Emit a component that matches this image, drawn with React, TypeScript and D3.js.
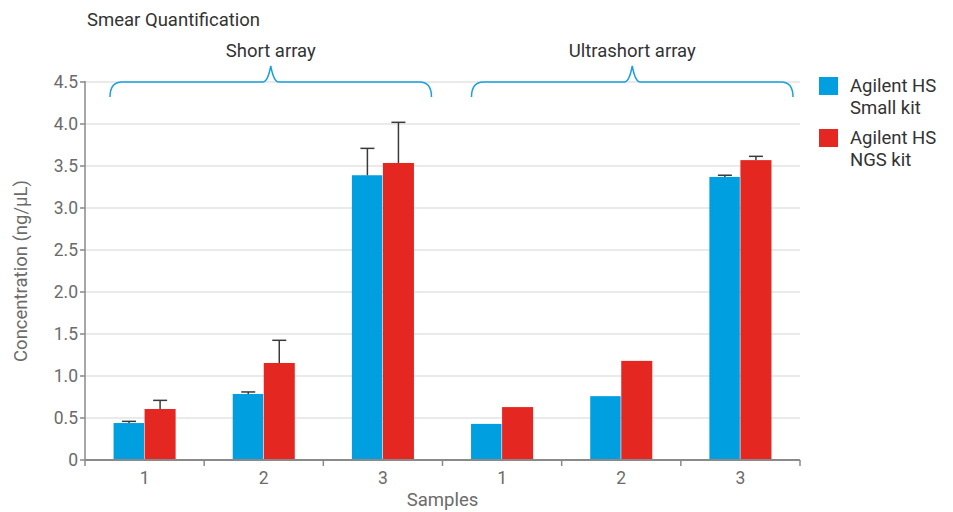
import React from "react";
import * as d3 from "d3";

const arrays = ["Short array", "Ultrashort array"];
const samples = ["1", "2", "3"];
const seriesNames = ["Agilent HS Small kit", "Agilent HS NGS kit"];
const legendLines = [["Agilent HS", "Small kit"], ["Agilent HS", "NGS kit"]];
const colors = ["#009fe0", "#e52722"];

// values per array, per sample: [small kit, ngs kit]
const shortSmall = [0.44, 0.786, 3.39];
const shortNgs = [0.607, 1.155, 3.536];
const ultraSmall = [0.43, 0.76, 3.37];
const ultraNgs = [0.63, 1.18, 3.57];
// upper error bar ends (null = no bar)
const shortSmallErr = [0.46, 0.81, 3.71];
const shortNgsErr = [0.71, 1.425, 4.02];
const ultraSmallErr = [null, null, 3.39];
const ultraNgsErr = [null, null, 3.615];

const yTicks = [0, 0.5, 1, 1.5, 2, 2.5, 3, 3.5, 4, 4.5];

const W = 953;
const H = 512;
const margin = { top: 82, right: 153, bottom: 52, left: 85 };
const font = "Roboto, 'Noto Sans', sans-serif";

type Bar = { key: string; series: number; value: number; err: number | null };

export default function App() {
  const keys = arrays.flatMap((a) => samples.map((s) => `${a}-${s}`));
  const x0 = d3.scaleBand().domain(keys).range([margin.left, W - margin.right]);
  const x1 = d3
    .scaleBand()
    .domain(seriesNames)
    .range([0, x0.bandwidth()])
    .paddingOuter(0.92);
  const y = d3.scaleLinear().domain([0, 4.5]).range([H - margin.bottom, margin.top]);

  const vals = [
    [shortSmall, shortNgs, shortSmallErr, shortNgsErr],
    [ultraSmall, ultraNgs, ultraSmallErr, ultraNgsErr],
  ];
  const bars: Bar[] = [];
  arrays.forEach((a, ai) => {
    samples.forEach((s, si) => {
      bars.push({ key: `${a}-${s}`, series: 0, value: vals[ai][0][si] as number, err: vals[ai][2][si] });
      bars.push({ key: `${a}-${s}`, series: 1, value: vals[ai][1][si] as number, err: vals[ai][3][si] });
    });
  });

  const x0Left = margin.left;
  const x0Right = W - margin.right;

  // braces spanning each array group
  const braces = arrays.map((a, ai) => {
    const first = x0(`${a}-${samples[0]}`)!;
    const last = x0(`${a}-${samples[samples.length - 1]}`)! + x0.bandwidth();
    const l = first + (ai === 0 ? 25 : 29);
    const r = last - (ai === 0 ? 11 : 7);
    const mid = (l + r) / 2;
    const yl = y(4.5);
    const ye = yl + 15;
    const yp = yl - 16;
    const rr = 12;
    const path = `M${l},${ye} Q${l},${yl} ${l + rr},${yl} L${mid - 8},${yl} Q${mid - 3},${yl} ${mid},${yp} Q${mid + 3},${yl} ${mid + 8},${yl} L${r - rr},${yl} Q${r},${yl} ${r},${ye}`;
    return { a, path, mid, yp };
  });

  return (
    <svg
      width={W}
      height={H}
      style={{ position: "absolute", left: 0, top: 0, background: "#fff" }}
      fontFamily={font}
    >
      {/* gridlines */}
      {yTicks.map((t) =>
        t === 0 ? null : (
          <line key={t} x1={x0Left} x2={x0Right} y1={y(t)} y2={y(t)} stroke="#e3e3e3" strokeWidth={1.5} />
        )
      )}
      {/* bars */}
      {bars.map((b, i) => (
        <rect
          key={i}
          x={x0(b.key)! + x1(seriesNames[b.series])!}
          y={y(b.value)}
          width={x1.bandwidth() - (b.series === 0 ? 0.6 : 0)}
          height={y(0) - y(b.value)}
          fill={colors[b.series]}
        />
      ))}
      {/* error bars */}
      {bars.map((b, i) => {
        if (b.err == null) return null;
        const cx = x0(b.key)! + x1(seriesNames[b.series])! + x1.bandwidth() / 2;
        return (
          <g key={"e" + i} stroke="#3a3a3a" strokeWidth={1.5}>
            <line x1={cx} x2={cx} y1={y(b.value)} y2={y(b.err)} />
            <line x1={cx - 7} x2={cx + 7} y1={y(b.err)} y2={y(b.err)} />
          </g>
        );
      })}
      {/* y axis */}
      <line x1={x0Left} x2={x0Left} y1={y(4.5) - 1} y2={y(0)} stroke="#8a8a8a" strokeWidth={1.5} />
      {yTicks.map((t) => (
        <g key={"yt" + t}>
          <line x1={x0Left - 5} x2={x0Left} y1={y(t)} y2={y(t)} stroke="#8a8a8a" strokeWidth={1.5} />
          <text
            x={x0Left - 7}
            y={y(t)}
            dy="0.35em"
            textAnchor="end"
            fontSize={17.5}
            fill="#6b6b6b"
          >
            {t === 0 ? "0" : t.toFixed(1)}
          </text>
        </g>
      ))}
      {/* x axis */}
      <line x1={x0Left} x2={x0Right} y1={y(0)} y2={y(0)} stroke="#8a8a8a" strokeWidth={2} />
      {keys.map((k) => (
        <line
          key={"xt" + k}
          x1={x0(k)! + x0.bandwidth()}
          x2={x0(k)! + x0.bandwidth()}
          y1={y(0)}
          y2={y(0) + 6}
          stroke="#8a8a8a"
          strokeWidth={1.5}
        />
      ))}
      <line x1={x0Left} x2={x0Left} y1={y(0)} y2={y(0) + 6} stroke="#8a8a8a" strokeWidth={1.5} />
      {keys.map((k, i) => (
        <text
          key={"xl" + k}
          x={x0(k)! + x0.bandwidth() / 2}
          y={y(0) + 24}
          textAnchor="middle"
          fontSize={17.5}
          fill="#6b6b6b"
        >
          {samples[i % samples.length]}
        </text>
      ))}
      <text x={(x0Left + x0Right) / 2} y={H - 6} textAnchor="middle" fontSize={18.5} fill="#6b6b6b">
        Samples
      </text>
      <text
        transform={`translate(27,${(y(0) + y(4.5)) / 2}) rotate(-90)`}
        textAnchor="middle"
        fontSize={18.5}
        fill="#6b6b6b"
      >
        Concentration (ng/µL)
      </text>
      {/* title */}
      <text x={87} y={26} fontSize={18.5} fill="#333">
        Smear Quantification
      </text>
      {/* braces + group labels */}
      {braces.map((b) => (
        <g key={b.a}>
          <path d={b.path} fill="none" stroke="#1a9fe0" strokeWidth={1.5} />
          <text x={b.mid} y={b.yp - 9} textAnchor="middle" fontSize={18.5} fill="#333">
            {b.a}
          </text>
        </g>
      ))}
      {/* legend */}
      {legendLines.map((lines, i) => (
        <g key={"lg" + i} transform={`translate(819,${77 + i * 52})`}>
          <rect width={19} height={18} fill={colors[i]} />
          {lines.map((ln, j) => (
            <text key={j} x={31} y={15 + j * 22} fontSize={18.5} fill="#333">
              {ln}
            </text>
          ))}
        </g>
      ))}
    </svg>
  );
}
